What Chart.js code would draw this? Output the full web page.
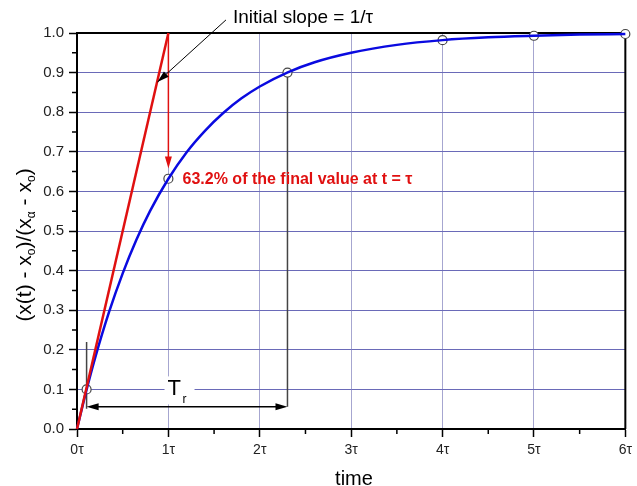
<!DOCTYPE html>
<html><head><meta charset="utf-8">
<script src="https://cdn.jsdelivr.net/npm/chart.js@4.4.1/dist/chart.umd.min.js"></script>
<style>html,body{margin:0;padding:0;background:#fff}#wrap{width:637px;height:486px}</style>
</head><body><div id="wrap"><canvas id="c" width="637" height="486"></canvas></div>
<script>
// Data
const curveT = [0, 0.1, 0.2, 0.35, 0.5, 0.65, 0.8, 1, 1.2, 1.4, 1.6, 1.8, 2, 2.3, 2.6, 3, 3.5, 4, 4.5, 5, 5.5, 6];
const curveY = [0, 0.095, 0.181, 0.295, 0.393, 0.478, 0.551, 0.632, 0.699, 0.753, 0.798, 0.835, 0.865, 0.90, 0.926, 0.95, 0.97, 0.982, 0.989, 0.993, 0.996, 0.9975];
const markerT = [0.105, 1, 2.303, 4, 5, 6];
const markerY = [0.1, 0.632, 0.9, 0.982, 0.993, 0.9975];
const slopeT = [0, 1];
const slopeY = [0, 1];
const xTickLabels = ['0τ', '1τ', '2τ', '3τ', '4τ', '5τ', '6τ'];
const riseStartT = 0.105, riseEndT = 2.303, riseY = 0.056;
const riseLeftTop = 0.22, riseRightTop = 0.9;
const dropT = 1, dropFrom = 1, dropTo = 0.658;
const slopeArrowFrom = [1.63, 1.033], slopeArrowTo = [0.88, 0.876];

const BLUE = '#0a0ae0', RED = '#e01010';
const FONT = '"Liberation Sans", Arial, sans-serif';

function arrowHead(ctx, x1, y1, x2, y2, len, w, color) {
  const a = Math.atan2(y2 - y1, x2 - x1);
  ctx.save();
  ctx.fillStyle = color;
  ctx.beginPath();
  ctx.moveTo(x2, y2);
  ctx.lineTo(x2 - len * Math.cos(a) + w * Math.sin(a), y2 - len * Math.sin(a) - w * Math.cos(a));
  ctx.lineTo(x2 - len * Math.cos(a) - w * Math.sin(a), y2 - len * Math.sin(a) + w * Math.cos(a));
  ctx.closePath();
  ctx.fill();
  ctx.restore();
}

const annot = {
  id: 'annot',
  beforeDatasetsDraw(chart) {
    const {ctx, chartArea: ca, scales: {x, y}} = chart;
    ctx.save();
    ctx.strokeStyle = '#000'; ctx.lineWidth = 2;
    ctx.beginPath();
    ctx.moveTo(ca.left, ca.top); ctx.lineTo(ca.right, ca.top); ctx.lineTo(ca.right, ca.bottom);
    ctx.stroke();
    ctx.lineWidth = 1.5;
    ctx.beginPath();
    for (let v = 0.5; v < 6; v += 1) {
      const px = x.getPixelForValue(v);
      ctx.moveTo(px, ca.bottom); ctx.lineTo(px, ca.bottom + 5);
    }
    for (let v = 0.05; v < 1; v += 0.1) {
      const py = y.getPixelForValue(v);
      ctx.moveTo(ca.left, py); ctx.lineTo(ca.left - 5, py);
    }
    ctx.stroke();
    ctx.strokeStyle = '#444'; ctx.lineWidth = 1.5;
    ctx.beginPath();
    ctx.moveTo(x.getPixelForValue(riseStartT), y.getPixelForValue(riseLeftTop));
    ctx.lineTo(x.getPixelForValue(riseStartT), y.getPixelForValue(riseY) + 2);
    ctx.moveTo(x.getPixelForValue(riseEndT), y.getPixelForValue(riseRightTop));
    ctx.lineTo(x.getPixelForValue(riseEndT), y.getPixelForValue(riseY));
    ctx.stroke();
    ctx.strokeStyle = '#000';
    const ax1 = x.getPixelForValue(riseStartT), ax2 = x.getPixelForValue(riseEndT), ay = y.getPixelForValue(riseY);
    ctx.beginPath(); ctx.moveTo(ax1 + 8, ay); ctx.lineTo(ax2 - 8, ay); ctx.stroke();
    arrowHead(ctx, ax2, ay, ax1, ay, 12, 3.5, '#000');
    arrowHead(ctx, ax1, ay, ax2, ay, 12, 3.5, '#000');
    const tx = x.getPixelForValue(1.1), ty = y.getPixelForValue(0.1);
    ctx.fillStyle = '#fff';
    ctx.fillRect(tx - 13, ty - 13, 30, 28);
    ctx.fillStyle = '#000';
    ctx.font = '22px ' + FONT;
    ctx.textAlign = 'left'; ctx.textBaseline = 'middle';
    ctx.fillText('T', tx - 10, ty);
    ctx.font = '12px ' + FONT;
    ctx.fillText('r', tx + 5, ty + 10);
    ctx.restore();
  },
  afterDatasetsDraw(chart) {
    const {ctx, chartArea: ca, scales: {x, y}} = chart;
    ctx.save();
    const dx = x.getPixelForValue(dropT), dy1 = y.getPixelForValue(dropFrom), dy2 = y.getPixelForValue(dropTo);
    ctx.strokeStyle = RED; ctx.lineWidth = 1.5;
    ctx.beginPath(); ctx.moveTo(dx, dy1); ctx.lineTo(dx, dy2 - 8); ctx.stroke();
    arrowHead(ctx, dx, dy1, dx, dy2, 12, 3.5, RED);
    const s1x = x.getPixelForValue(slopeArrowFrom[0]), s1y = y.getPixelForValue(slopeArrowFrom[1]);
    const s2x = x.getPixelForValue(slopeArrowTo[0]), s2y = y.getPixelForValue(slopeArrowTo[1]);
    ctx.strokeStyle = '#000'; ctx.lineWidth = 1;
    ctx.beginPath(); ctx.moveTo(s1x, s1y); ctx.lineTo(s2x, s2y); ctx.stroke();
    arrowHead(ctx, s1x, s1y, s2x, s2y, 12, 3.5, '#000');
    ctx.fillStyle = '#000';
    ctx.font = '19px ' + FONT;
    ctx.textAlign = 'left'; ctx.textBaseline = 'middle';
    ctx.fillText('Initial slope = 1/τ', 233, 18);
    ctx.fillStyle = RED;
    ctx.font = 'bold 16px ' + FONT;
    ctx.fillText('63.2% of the final value at t = τ', x.getPixelForValue(1.155), y.getPixelForValue(0.63));
    ctx.fillStyle = '#000';
    ctx.font = '20px ' + FONT;
    ctx.textAlign = 'center';
    ctx.fillText('time', 354, 479);
    ctx.translate(25, 245);
    ctx.rotate(-Math.PI / 2);
    const parts = [['(x(t) - x', 0], ['o', 1], [')/(x', 0], ['α', 1], [' - x', 0], ['o', 1], [')', 0]];
    const big = '21px ' + FONT, small = '12px ' + FONT;
    let total = 0;
    for (const [t, s] of parts) { ctx.font = s ? small : big; total += ctx.measureText(t).width; }
    let cx = -total / 2;
    ctx.textAlign = 'left';
    for (const [t, s] of parts) {
      ctx.font = s ? small : big;
      ctx.fillText(t, cx, s ? 7 : 0);
      cx += ctx.measureText(t).width;
    }
    ctx.restore();
  }
};

new Chart(document.getElementById('c'), {
  type: 'line',
  data: {
    datasets: [
      { data: slopeT.map((t, i) => ({x: t, y: slopeY[i]})), borderColor: RED, borderWidth: 2.5, pointRadius: 0, clip: false },
      { data: curveT.map((t, i) => ({x: t, y: curveY[i]})), borderColor: BLUE, borderWidth: 2.5, pointRadius: 0, cubicInterpolationMode: 'monotone', clip: false },
      { data: markerT.map((t, i) => ({x: t, y: markerY[i]})), showLine: false, pointRadius: 4.5, pointBackgroundColor: '#fff', pointBorderColor: '#444', pointBorderWidth: 1.2, clip: false }
    ]
  },
  options: {
    responsive: false, animation: false, events: [],
    layout: { padding: { left: 0, right: 7, top: 33, bottom: 0 } },
    plugins: { legend: { display: false }, tooltip: { enabled: false } },
    scales: {
      x: {
        type: 'linear', min: 0, max: 6,
        afterFit(s) { s.height = 57; },
        border: { color: '#000', width: 2 },
        grid: { color: (c) => (c.tick && c.tick.value > 0 && c.tick.value < 6) ? '#a6a6d0' : 'rgba(0,0,0,0)', lineWidth: 1, tickColor: '#000', tickLength: 8, tickWidth: 1.5 },
        ticks: { stepSize: 1, padding: 5, color: '#222', font: { family: FONT, size: 14 }, callback: (v) => xTickLabels[v], maxRotation: 0 }
      },
      y: {
        type: 'linear', min: 0, max: 1,
        afterFit(s) { s.width = 77; },
        border: { color: '#000', width: 2 },
        grid: { color: (c) => (c.tick && c.tick.value > 0.001 && c.tick.value < 0.999) ? '#6a6ab8' : 'rgba(0,0,0,0)', lineWidth: 1, tickColor: '#000', tickLength: 8, tickWidth: 1.5 },
        ticks: { stepSize: 0.1, padding: 5, color: '#222', font: { family: FONT, size: 15 }, callback: (v) => v.toFixed(1) }
      }
    }
  },
  plugins: [annot]
});
</script></body></html>
